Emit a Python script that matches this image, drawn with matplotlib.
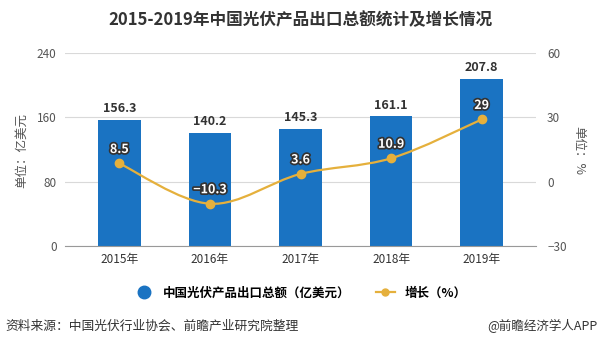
import numpy as np
import matplotlib.pyplot as plt
import matplotlib.patheffects as pe
from matplotlib.path import Path
from matplotlib.patches import PathPatch
from matplotlib.lines import Line2D

plt.rcParams['font.family'] = ['Noto Sans CJK SC', 'DejaVu Sans']

years = ['2015年', '2016年', '2017年', '2018年', '2019年']
export_total = [156.3, 140.2, 145.3, 161.1, 207.8]
growth = [8.5, -10.3, 3.6, 10.9, 29]
growth_labels = ['8.5', '−10.3', '3.6', '10.9', '29']

bar_color = '#1a73c2'
line_color = '#e5b03c'
text_gray = '#555555'

fig = plt.figure(figsize=(6.01, 3.48), dpi=100)
ax = fig.add_axes([65 / 601, 1 - 246 / 348, (536 - 65) / 601, (246 - 53) / 348])
ax2 = ax.twinx()

x = np.arange(len(years))
ax.bar(x, export_total, width=0.47, color=bar_color, zorder=2)
ax.set_xlim(-0.6, 4.6)
ax.set_ylim(0, 240)
ax.set_yticks([0, 80, 160, 240])
ax.grid(axis='y', color='#d9d9d9', linewidth=0.8, zorder=0)
for s in ['top', 'left', 'right']:
    ax.spines[s].set_visible(False)
ax.spines['bottom'].set_color('#999999')
ax.tick_params(axis='y', length=0, labelsize=8.5, labelcolor=text_gray, pad=6)
ax.tick_params(axis='x', length=0, labelsize=8.5, labelcolor='#333333', pad=5)
ax.set_xticks(x)
ax.set_xticklabels(years)

for xi, v in zip(x, export_total):
    ax.text(xi, v + 6, f'{v}', ha='center', va='bottom', fontsize=9,
            fontweight='bold', color='#333333', zorder=4)

# smooth curve through the growth points (Catmull-Rom as bezier)
ax2.set_ylim(-30, 60)
ax2.set_yticks([-30, 0, 30, 60])
pts = np.column_stack([x, growth]).astype(float)
verts = [tuple(pts[0])]
codes = [Path.MOVETO]
for i in range(len(pts) - 1):
    p0 = pts[i - 1] if i > 0 else pts[i]
    p1 = pts[i]
    p2 = pts[i + 1]
    p3 = pts[i + 2] if i + 2 < len(pts) else pts[i + 1]
    c1 = p1 + (p2 - p0) / 6
    c2 = p2 - (p3 - p1) / 6
    verts += [tuple(c1), tuple(c2), tuple(p2)]
    codes += [Path.CURVE4] * 3
ax2.add_patch(PathPatch(Path(verts, codes), fill=False, edgecolor=line_color,
                        linewidth=1.6, zorder=3))
ax2.plot(x, growth, 'o', color=line_color, markersize=6, zorder=4)
for xi, v, lab in zip(x, growth, growth_labels):
    ax2.text(xi, v + 3.5, lab, ha='center', va='bottom', fontsize=9,
             fontweight='bold', color='white', zorder=5,
             path_effects=[pe.withStroke(linewidth=2.5, foreground='#333333')])
for s in ['top', 'left', 'right', 'bottom']:
    ax2.spines[s].set_visible(False)
ax2.tick_params(axis='y', length=0, labelsize=8.5, labelcolor=text_gray, pad=8)

# axis unit labels
fig.text(22 / 601, 1 - 150 / 348, '单位：亿美元', rotation=90, ha='center',
         va='center', fontsize=9, color=text_gray)
fig.text(579 / 601, 1 - 150 / 348, '单位：%', rotation=-90, ha='center',
         va='center', fontsize=9, color=text_gray)

fig.text(0.5, 1 - 20 / 348, '2015-2019年中国光伏产品出口总额统计及增长情况',
         ha='center', va='center', fontsize=12, fontweight='bold', color='#333333')

handles = [
    Line2D([], [], marker='o', linestyle='none', color=bar_color, markersize=9),
    Line2D([], [], marker='o', color=line_color, markersize=5, linewidth=1.6),
]
fig.legend(handles, ['中国光伏产品出口总额（亿美元）', '增长（%）'],
           loc='center', bbox_to_anchor=(0.5, 1 - 293 / 348), ncol=2,
           frameon=False, handlelength=1.5, columnspacing=2.0,
           prop={'weight': 'bold', 'size': 9})

fig.text(5 / 601, 1 - 326 / 348, '资料来源：中国光伏行业协会、前瞻产业研究院整理',
         ha='left', va='center', fontsize=9.2, color='#333333')
fig.text(597 / 601, 1 - 326 / 348, '@前瞻经济学人APP',
         ha='right', va='center', fontsize=9, color='#333333')

fig.savefig('out.png', dpi=100)
